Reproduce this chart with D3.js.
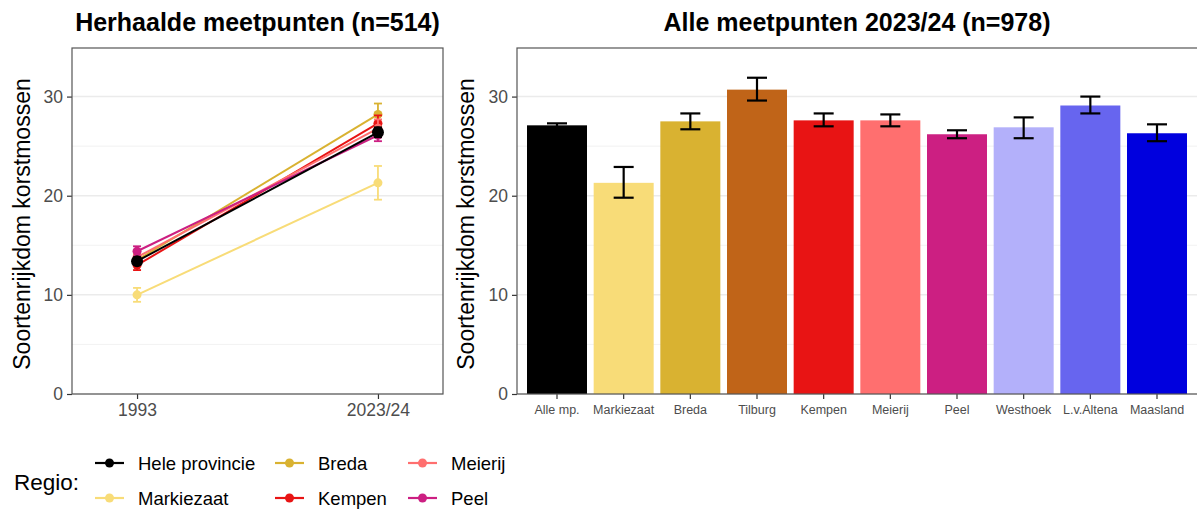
<!DOCTYPE html>
<html>
<head>
<meta charset="utf-8">
<script src="https://cdn.jsdelivr.net/npm/d3@7"></script>
<style>
  body { margin: 0; background: #fff; }
  text { font-family: "Liberation Sans", Arial, sans-serif; }
</style>
</head>
<body>
<div id="chart"></div>
<script>
// left panel: repeated points
var years = ["1993", "2023/24"];
var regions = ["Hele provincie", "Markiezaat", "Breda", "Kempen", "Meierij", "Peel"];
var regionColors = ["#000000", "#f8dc78", "#d9b231", "#e81414", "#ff6f6f", "#cc1f82"];
var meanVals = [
    [13.4, 26.4],  // Hele provincie
    [10.0, 21.3],  // Markiezaat
    [13.5, 28.2],  // Breda
    [13.0, 27.3],  // Kempen
    [13.8, 26.8],  // Meierij
    [14.4, 26.1]   // Peel
];
var seVals = [
    [0.4, 0.5],
    [0.7, 1.7],
    [0.6, 1.1],
    [0.5, 0.8],
    [0.6, 0.9],
    [0.5, 0.6]
];

// right panel: all points 2023/24
var bars = ["Alle mp.", "Markiezaat", "Breda", "Tilburg", "Kempen", "Meierij", "Peel", "Westhoek", "L.v.Altena", "Maasland"];
var barColors = ["#000000", "#f8dc78", "#d9b231", "#c06418", "#e81414", "#ff6f6f", "#cc1f82", "#b3b0fa", "#6765ef", "#0000de"];
var barVals = [27.1, 21.3, 27.5, 30.7, 27.6, 27.6, 26.2, 26.9, 29.1, 26.3];
var barLow = [26.9, 19.8, 26.7, 29.6, 27.0, 27.0, 25.8, 25.8, 28.3, 25.5];
var barHigh = [27.3, 22.9, 28.3, 31.9, 28.3, 28.2, 26.6, 27.9, 30.0, 27.2];

var yTicks = [0, 10, 20, 30];
var yMinor = [5, 15, 25, 35];

var W = 1197, H = 511;
var svg = d3.select("#chart").append("svg")
    .attr("width", W).attr("height", H);

var pTop = 48, pBottom = 394;
var y = d3.scaleLinear().domain([0, 34.9]).range([pBottom, pTop]);

function drawFrame(x0, x1, title) {
    var g = svg.append("g");
    // grid
    g.selectAll(".minor").data(yMinor.filter(function (d) { return y(d) > pTop; }))
        .enter().append("line")
        .attr("x1", x0).attr("x2", x1)
        .attr("y1", function (d) { return y(d); }).attr("y2", function (d) { return y(d); })
        .attr("stroke", "#f2f2f2").attr("stroke-width", 1);
    g.selectAll(".major").data(yTicks)
        .enter().append("line")
        .attr("x1", x0).attr("x2", x1)
        .attr("y1", function (d) { return y(d); }).attr("y2", function (d) { return y(d); })
        .attr("stroke", "#ebebeb").attr("stroke-width", 1.5);
    // y axis
    var ax = svg.append("g")
        .attr("transform", "translate(" + x0 + ",0)")
        .call(d3.axisLeft(y).tickValues(yTicks).tickSize(5).tickPadding(4));
    ax.select(".domain").remove();
    ax.selectAll(".tick line").attr("stroke", "#333").attr("stroke-width", 1.2);
    ax.selectAll(".tick text").attr("fill", "#4d4d4d").style("font-size", "17.5px");
    // title
    svg.append("text")
        .attr("x", (x0 + x1) / 2).attr("y", 31)
        .attr("text-anchor", "middle")
        .style("font-size", "25px").style("font-weight", "bold")
        .text(title);
    return g;
}

function drawBorder(x0, x1) {
    svg.append("rect")
        .attr("x", x0).attr("y", pTop)
        .attr("width", x1 - x0).attr("height", pBottom - pTop)
        .attr("fill", "none").attr("stroke", "#555").attr("stroke-width", 1.2);
}

function yLabel(xPos) {
    svg.append("text")
        .attr("transform", "translate(" + xPos + "," + ((pTop + pBottom) / 2 + 3) + ") rotate(-90)")
        .attr("text-anchor", "middle")
        .style("font-size", "23px")
        .text("Soortenrijkdom korstmossen");
}

// ---------- left panel ----------
var L0 = 72, L1 = 443;
drawFrame(L0, L1, "Herhaalde meetpunten (n=514)");
yLabel(30);

var xl = d3.scalePoint().domain(years).range([L0, L1]).padding(0.27);
var axl = svg.append("g")
    .attr("transform", "translate(0," + pBottom + ")")
    .call(d3.axisBottom(xl).tickSize(5).tickPadding(5));
axl.select(".domain").remove();
axl.selectAll(".tick line").attr("stroke", "#333").attr("stroke-width", 1.2);
axl.selectAll(".tick text").attr("fill", "#4d4d4d").style("font-size", "17.5px");

// draw order: regions first, province last
var order = [1, 2, 3, 4, 5, 0];
var line = d3.line()
    .x(function (d, i) { return xl(years[i]); })
    .y(function (d) { return y(d); });

order.forEach(function (k) {
    var g = svg.append("g");
    var c = regionColors[k];
    g.append("path")
        .datum(meanVals[k])
        .attr("fill", "none")
        .attr("stroke", c)
        .attr("stroke-width", 2)
        .attr("d", line);
    meanVals[k].forEach(function (v, i) {
        var cx = xl(years[i]);
        var lo = y(v - seVals[k][i]), hi = y(v + seVals[k][i]);
        g.append("line").attr("x1", cx).attr("x2", cx).attr("y1", lo).attr("y2", hi)
            .attr("stroke", c).attr("stroke-width", 1.8);
        [lo, hi].forEach(function (yy) {
            g.append("line").attr("x1", cx - 4).attr("x2", cx + 4).attr("y1", yy).attr("y2", yy)
                .attr("stroke", c).attr("stroke-width", 1.8);
        });
        g.append("circle").attr("cx", cx).attr("cy", y(v))
            .attr("r", k === 0 ? 6 : 4.5).attr("fill", c);
    });
});
drawBorder(L0, L1);

// ---------- right panel ----------
var R0 = 517, R1 = 1197;
drawFrame(R0, R1, "Alle meetpunten 2023/24 (n=978)");
yLabel(474);

var xr = d3.scaleBand().domain(bars).range([R0, R1]).paddingInner(0.1).paddingOuter(0.15);

svg.append("g").selectAll("rect")
    .data(bars)
    .enter().append("rect")
    .attr("x", function (d) { return xr(d); })
    .attr("width", xr.bandwidth())
    .attr("y", function (d, i) { return y(barVals[i]); })
    .attr("height", function (d, i) { return pBottom - y(barVals[i]); })
    .attr("fill", function (d, i) { return barColors[i]; });

var eb = svg.append("g");
bars.forEach(function (d, i) {
    var cx = xr(d) + xr.bandwidth() / 2;
    eb.append("line").attr("x1", cx).attr("x2", cx)
        .attr("y1", y(barLow[i])).attr("y2", y(barHigh[i]))
        .attr("stroke", "#000").attr("stroke-width", 2.2);
    [barLow[i], barHigh[i]].forEach(function (v) {
        eb.append("line").attr("x1", cx - 10).attr("x2", cx + 10)
            .attr("y1", y(v)).attr("y2", y(v))
            .attr("stroke", "#000").attr("stroke-width", 2.2);
    });
});

var axr = svg.append("g")
    .attr("transform", "translate(0," + pBottom + ")")
    .call(d3.axisBottom(xr).tickSize(5).tickPadding(6));
axr.select(".domain").remove();
axr.selectAll(".tick line").attr("stroke", "#333").attr("stroke-width", 1.2);
axr.selectAll(".tick text").attr("fill", "#4d4d4d").style("font-size", "12.5px");
drawBorder(R0, R1 + 2);

// ---------- legend ----------
var leg = svg.append("g");
leg.append("text").attr("x", 14).attr("y", 490)
    .style("font-size", "22.5px").text("Regio:");
var colX = [95, 275, 408];
var rowY = [463, 498];
regions.forEach(function (r, i) {
    var cx = colX[Math.floor(i / 2)], cy = rowY[i % 2];
    leg.append("line").attr("x1", cx).attr("x2", cx + 29).attr("y1", cy).attr("y2", cy)
        .attr("stroke", regionColors[i]).attr("stroke-width", 2.2);
    leg.append("circle").attr("cx", cx + 14.5).attr("cy", cy).attr("r", 4.5)
        .attr("fill", regionColors[i]);
    leg.append("text").attr("x", cx + 43).attr("y", cy + 6.5)
        .style("font-size", "18.5px").text(r);
});
</script>
</body>
</html>
